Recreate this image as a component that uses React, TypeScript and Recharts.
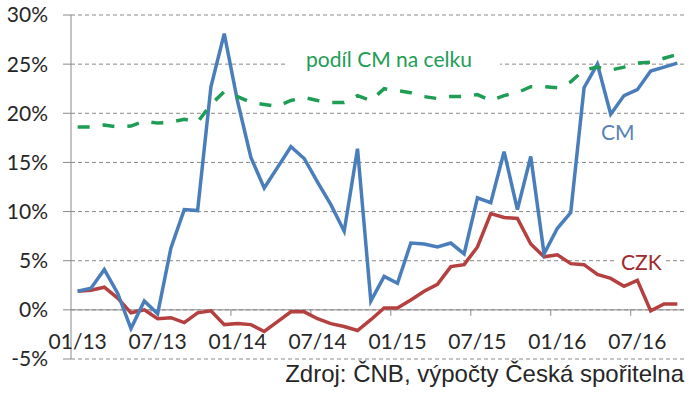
import { LineChart, Line, XAxis, YAxis, CartesianGrid, ReferenceLine } from 'recharts'

document.body.style.margin = '0'

// monthly values 01/2013 .. 10/2016, in %
const TICK_LABELS = ['01/13', '07/13', '01/14', '07/14', '01/15', '07/15', '01/16', '07/16']
const CM = [
  1.9, 2.2, 4.1, 1.7, -1.9, 0.9, -0.4, 6.3, 10.2, 10.1,
  22.7, 28.1, 21.2, 15.5, 12.4, 14.5, 16.6, 15.4, 13.0, 10.7,
  8.0, 16.4, 0.9, 3.4, 2.7, 6.8, 6.7, 6.4, 6.8, 5.7,
  11.4, 10.9, 16.1, 10.2, 15.6, 5.7, 8.3, 9.9, 22.6, 25.0,
  19.9, 21.8, 22.4, 24.3, 24.7, 25.1,
]
const CZK = [
  1.9, 2.0, 2.3, 1.2, -0.3, 0.0, -0.9, -0.8, -1.3, -0.3,
  -0.1, -1.5, -1.4, -1.5, -2.2, -1.2, -0.2, -0.2, -0.9, -1.4,
  -1.7, -2.1, -1.0, 0.2, 0.2, 1.0, 1.9, 2.6, 4.4, 4.6,
  6.4, 9.8, 9.4, 9.3, 6.7, 5.4, 5.6, 4.7, 4.6, 3.6,
  3.2, 2.4, 3.0, -0.1, 0.6, 0.6,
]
const PODIL = [
  18.6, 18.6, 18.8, 18.6, 18.7, 19.2, 19.0, 19.1, 19.4, 19.1,
  20.9, 22.2, 21.7, 21.1, 20.9, 20.7, 21.3, 21.6, 21.3, 21.1,
  21.1, 21.8, 21.3, 22.5, 22.3, 22.1, 21.7, 21.5, 21.7, 21.7,
  21.9, 21.3, 21.8, 22.1, 22.7, 22.7, 22.6, 23.2, 24.4, 24.7,
  24.4, 24.7, 25.1, 25.2, 25.6, 26.0,
]
const Y_TICKS = [-5, 0, 5, 10, 15, 20, 25, 30]

const data = CM.map((v, i) => ({ i, cm: v, czk: CZK[i], podil: PODIL[i] }))
const X_TICKS = TICK_LABELS.map((_, k) => k * 6)
const BOUNDARIES = X_TICKS.slice(1).map((t) => t - 0.5)

const AXIS = '#8a8a8a'
const BLUE = '#4a7ebb'
const RED = '#b4403f'
const GREEN = '#1e9d55'
const FONT = 'Lato, "Open Sans", sans-serif'

function XTick({ x, y, payload }: any) {
  return (
    <text x={x} y={y - 10} textAnchor="middle" fontFamily={FONT} fontSize={21} fill="#262626">
      {TICK_LABELS[payload.value / 6]}
    </text>
  )
}

export default function App() {
  return (
    <div style={{ position: 'relative', width: 692, height: 394, background: '#fff' }}>
      <LineChart width={692} height={394} data={data} margin={{ top: 15, right: 8, bottom: 5, left: 0 }}>
        <CartesianGrid vertical={false} stroke={AXIS} strokeDasharray="4 3" />
        <XAxis
          type="number"
          dataKey="i"
          domain={[-0.5, 45.5]}
          ticks={X_TICKS}
          interval={0}
          height={30}
          axisLine={false}
          tickLine={false}
          tickSize={0}
          tickMargin={0}
          tick={<XTick />}
        />
        <YAxis
          domain={[-5, 30]}
          ticks={Y_TICKS}
          interval={0}
          width={71}
          axisLine={{ stroke: AXIS }}
          tickLine={{ stroke: AXIS }}
          tickSize={8}
          tickMargin={15}
          tickFormatter={(v) => `${v}%`}
          tick={{ fontFamily: FONT, fontSize: 21, fill: '#262626' }}
        />
        <ReferenceLine y={0} stroke={AXIS} strokeWidth={1} />
        {BOUNDARIES.map((b) => (
          <ReferenceLine key={b} segment={[{ x: b, y: 0 }, { x: b, y: -0.6 }]} stroke={AXIS} />
        ))}
        <Line type="linear" dataKey="czk" stroke={RED} strokeWidth={3.5} dot={false} isAnimationActive={false} />
        <Line type="linear" dataKey="cm" stroke={BLUE} strokeWidth={3.5} dot={false} isAnimationActive={false} />
        <Line
          type="linear"
          dataKey="podil"
          stroke={GREEN}
          strokeWidth={3.5}
          strokeDasharray="12 13"
          dot={false}
          isAnimationActive={false}
        />
      </LineChart>
      <svg width={692} height={394} style={{ position: 'absolute', left: 0, top: 0, pointerEvents: 'none' }}>
        <rect x={287} y={44} width={213} height={38} fill="#fff" />
        <text x={306} y={67} fontFamily={FONT} fontSize={21} fill={GREEN}>podíl CM na celku</text>
        <text x={601} y={140} fontFamily={FONT} fontSize={21} fill="#5a82b4">CM</text>
        <rect x={617} y={252} width={47} height={20} fill="#fff" />
        <text x={621} y={269.5} fontFamily={FONT} fontSize={21} fill="#9e2a2b">CZK</text>
        <text x={684} y={382} textAnchor="end" fontFamily='"Liberation Sans", Arial, sans-serif' fontSize={24} fill="#262626">
          Zdroj: ČNB, výpočty Česká spořitelna
        </text>
      </svg>
    </div>
  )
}
